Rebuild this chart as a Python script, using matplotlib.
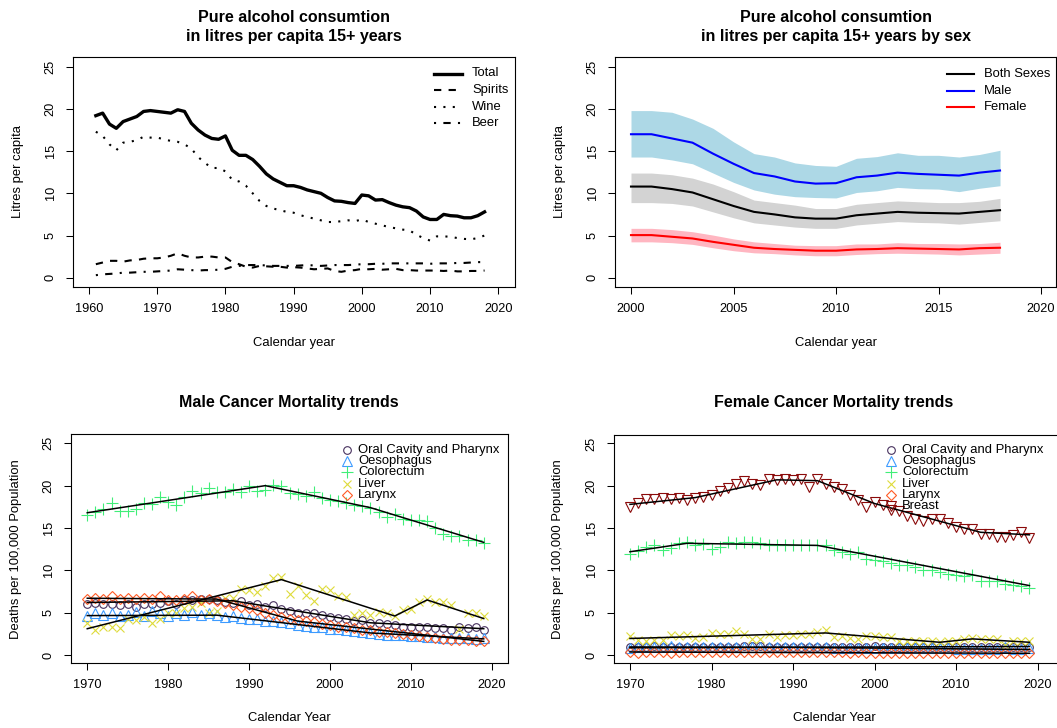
import matplotlib
matplotlib.use("Agg")
import matplotlib.pyplot as plt
from matplotlib.lines import Line2D

plt.rcParams['font.family'] = ['Liberation Sans', 'DejaVu Sans']

W, H = 1057, 728

# ---------------- data: alcohol consumption 1961-2018 ----------------
years_alc = list(range(1961, 2019))
total = [19.2, 19.5, 18.2, 17.7, 18.5, 18.8, 19.1, 19.7, 19.8,
         19.7, 19.6, 19.5, 19.9, 19.7, 18.3, 17.5, 16.9, 16.5, 16.4,
         16.8, 15.1, 14.5, 14.5, 14.0, 13.2, 12.3, 11.7, 11.3, 10.9,
         10.9, 10.7, 10.4, 10.2, 10.0, 9.5, 9.1, 9.05, 8.9, 8.8,
         9.8, 9.7, 9.2, 9.25, 8.9, 8.6, 8.4, 8.3, 7.9, 7.2,
         6.9, 6.9, 7.5, 7.35, 7.3, 7.1, 7.1, 7.35, 7.8]
wine = [17.3, 16.8, 15.8, 15.1, 16.0, 16.1, 16.3, 16.7, 16.6,
        16.6, 16.4, 16.2, 16.1, 15.8, 15.3, 14.3, 13.6, 13.0, 13.0,
        12.6, 11.6, 11.4, 10.9, 10.0, 9.1, 8.5, 8.2, 8.0, 7.8,
        7.7, 7.4, 7.2, 7.0, 6.8, 6.6, 6.6, 6.7, 6.8, 6.7,
        6.9, 6.6, 6.4, 6.2, 6.0, 5.85, 5.7, 5.6, 5.1, 4.7,
        4.4, 4.9, 4.9, 4.85, 4.7, 4.6, 4.55, 4.7, 5.0]
spirits = [1.6, 1.8, 2.0, 2.0, 1.9, 2.05, 2.1, 2.25, 2.3,
           2.3, 2.4, 2.6, 2.9, 2.6, 2.4, 2.4, 2.5, 2.5, 2.4,
           2.4, 1.85, 1.6, 1.3, 1.2, 1.4, 1.35, 1.3, 1.3, 1.2,
           1.25, 1.2, 1.1, 1.0, 1.05, 1.1, 0.8, 0.7, 0.85, 0.9,
           1.05, 1.0, 1.05, 0.95, 1.0, 1.05, 0.9, 0.9, 0.85, 0.85,
           0.85, 0.85, 0.8, 0.85, 0.75, 0.75, 0.8, 0.8, 0.85]
beer = [0.3, 0.4, 0.45, 0.5, 0.6, 0.6, 0.65, 0.7, 0.7,
        0.75, 0.8, 0.85, 1.0, 0.95, 0.9, 0.85, 0.9, 0.9, 0.95,
        1.05, 1.3, 1.4, 1.5, 1.5, 1.5, 1.45, 1.4, 1.4, 1.4,
        1.4, 1.45, 1.5, 1.45, 1.4, 1.45, 1.5, 1.5, 1.5, 1.55,
        1.6, 1.6, 1.65, 1.65, 1.7, 1.7, 1.7, 1.7, 1.7, 1.7,
        1.65, 1.7, 1.7, 1.7, 1.75, 1.75, 1.8, 1.85, 1.85]

# ---------------- data: by sex 2000-2018 ----------------
years_sex = list(range(2000, 2019))
male = [17.0, 17.0, 16.5, 16.0, 14.7, 13.5, 12.4, 12.0, 11.4, 11.15,
        11.2, 11.9, 12.1, 12.45, 12.3, 12.2, 12.1, 12.45, 12.7]
male_hi = [19.8, 19.8, 19.6, 18.8, 17.7, 16.1, 14.7, 14.3, 13.6, 13.3,
           13.2, 14.15, 14.35, 14.8, 14.5, 14.5, 14.3, 14.6, 15.1]
male_lo = [14.3, 14.3, 13.95, 13.5, 12.4, 11.3, 10.4, 9.9, 9.6, 9.5,
           9.45, 10.1, 10.3, 10.7, 10.55, 10.5, 10.2, 10.6, 10.9]
both = [10.8, 10.8, 10.5, 10.1, 9.3, 8.5, 7.8, 7.5, 7.15, 7.0,
        7.0, 7.4, 7.6, 7.8, 7.7, 7.65, 7.6, 7.8, 8.0]
both_hi = [12.4, 12.4, 12.2, 11.8, 11.1, 10.2, 9.2, 8.9, 8.6, 8.2,
           8.2, 8.7, 8.9, 9.1, 9.0, 8.9, 8.9, 9.05, 9.4]
both_lo = [8.9, 8.9, 8.8, 8.5, 7.8, 7.1, 6.5, 6.25, 6.0, 5.85,
           5.85, 6.25, 6.45, 6.65, 6.55, 6.5, 6.35, 6.55, 6.75]
female = [5.05, 5.05, 4.85, 4.65, 4.25, 3.9, 3.55, 3.4, 3.3, 3.2,
          3.2, 3.35, 3.4, 3.5, 3.45, 3.4, 3.35, 3.5, 3.55]
female_hi = [5.85, 5.85, 5.7, 5.45, 5.05, 4.6, 4.25, 4.05, 3.85, 3.8,
             3.8, 4.0, 4.0, 4.15, 4.05, 4.05, 4.0, 4.05, 4.2]
female_lo = [4.25, 4.25, 4.15, 3.95, 3.55, 3.2, 2.95, 2.85, 2.7, 2.6,
             2.6, 2.75, 2.85, 2.9, 2.85, 2.8, 2.7, 2.8, 2.9]

# ---------------- data: cancer mortality 1970-2019 ----------------
years_c = list(range(1970, 2020))
oral_m = [6.05, 6.15, 6.0, 6.05, 5.95, 6.0, 5.65, 6.0, 6.0, 6.1,
          6.35, 6.05, 6.45, 6.5, 6.6, 6.6, 6.5, 6.2, 6.1, 6.35,
          5.95, 6.05, 5.7, 5.85, 5.45, 5.25, 5.0, 5.0, 4.95, 4.7,
          4.45, 4.4, 4.25, 4.0, 4.15, 3.75, 3.75, 3.65, 3.55, 3.35,
          3.3, 3.3, 3.25, 3.15, 3.15, 2.95, 3.35, 3.15, 3.3, 3.0]
oes_m = [4.6, 4.9, 4.7, 5.0, 4.6, 4.7, 5.1, 4.6, 5.2, 4.9,
         4.6, 4.9, 4.7, 5.1, 4.7, 5.0, 4.7, 4.5, 4.6, 4.4,
         4.2, 4.2, 4.0, 4.0, 3.9, 3.8, 3.5, 3.4, 3.3, 3.3,
         3.1, 3.1, 2.9, 2.8, 2.7, 2.6, 2.5, 2.4, 2.3, 2.3,
         2.2, 2.2, 2.1, 2.1, 2.0, 2.0, 2.0, 2.0, 1.9, 2.0]
colo_m = [16.5, 16.9, 17.2, 18.0, 17.0, 17.0, 17.2, 17.9, 17.8, 18.6,
          18.1, 17.7, 18.6, 19.35, 19.1, 19.7, 19.2, 19.2, 19.55, 19.3,
          19.95, 19.35, 19.5, 20.1, 19.9, 19.15, 19.0, 18.75, 19.3, 18.5,
          18.3, 18.2, 17.9, 17.7, 17.6, 17.4, 16.9, 16.3, 16.7, 16.1,
          16.0, 16.0, 15.8, 15.05, 14.3, 14.0, 14.1, 13.6, 13.6, 13.2]
liver_m = [3.75, 2.95, 3.35, 3.35, 3.15, 4.25, 4.1, 4.5, 3.8, 4.3,
           4.9, 4.9, 5.5, 5.7, 6.1, 5.0, 5.2, 6.7, 6.7, 7.75,
           7.7, 7.45, 8.1, 9.05, 9.25, 7.2, 8.1, 7.1, 6.4, 7.75,
           7.7, 7.0, 6.9, 4.7, 4.9, 4.7, 5.05, 4.9, 4.6, 5.3,
           5.45, 6.3, 6.6, 6.2, 6.2, 5.9, 3.1, 4.9, 5.0, 4.65]
larynx_m = [6.6, 6.7, 6.6, 7.0, 6.6, 6.7, 6.6, 6.7, 6.6, 7.0,
            6.5, 6.5, 6.6, 7.0, 6.5, 6.6, 6.4, 6.1, 5.9, 5.7,
            5.5, 5.3, 4.9, 4.7, 4.5, 4.3, 4.1, 4.0, 3.9, 3.7,
            3.5, 3.35, 3.3, 3.15, 3.0, 2.9, 2.75, 2.7, 2.55, 2.5,
            2.3, 2.2, 2.1, 2.0, 1.9, 1.8, 1.8, 1.75, 1.7, 1.6]

oral_f = [0.9, 1.0, 1.0, 1.1, 1.0, 1.0, 0.9, 1.0, 0.9, 1.0,
          1.0, 1.0, 1.0, 1.0, 1.1, 1.1, 1.1, 1.0, 1.0, 1.0,
          1.0, 1.0, 1.0, 1.0, 1.0, 0.9, 1.0, 0.9, 1.0, 1.0,
          1.1, 1.0, 1.0, 1.0, 1.0, 1.0, 1.0, 1.0, 1.0, 1.0,
          1.0, 1.0, 1.0, 1.0, 1.0, 1.0, 1.0, 1.0, 1.0, 1.0]
oes_f = [0.8, 1.0, 0.9, 1.0, 0.9, 1.1, 0.9, 0.9, 1.0, 0.9,
         0.9, 0.9, 0.9, 0.9, 0.9, 0.9, 0.9, 0.9, 0.9, 0.9,
         0.9, 0.9, 0.9, 0.9, 0.9, 0.8, 0.8, 0.8, 0.8, 0.8,
         0.8, 0.8, 0.8, 0.8, 0.8, 0.8, 0.8, 0.8, 0.8, 0.8,
         0.7, 0.7, 0.7, 0.7, 0.7, 0.7, 1.0, 0.7, 0.7, 0.8]
colo_f = [11.9, 12.3, 12.75, 13.0, 12.35, 12.7, 13.2, 13.4, 12.95, 13.15,
          12.55, 12.75, 13.4, 13.2, 13.35, 13.4, 13.25, 13.0, 13.0, 12.95,
          12.95, 12.95, 12.95, 12.95, 12.95, 12.35, 12.15, 11.95, 12.15, 11.35,
          11.2, 11.05, 10.85, 10.65, 10.65, 10.4, 10.05, 10.0, 9.8, 9.6,
          9.5, 9.3, 9.5, 8.8, 8.7, 8.75, 8.35, 8.25, 8.2, 7.95]
liver_f = [2.2, 1.8, 1.7, 1.75, 1.8, 2.4, 2.3, 2.35, 2.0, 2.1,
           2.6, 2.45, 2.45, 2.85, 2.5, 1.9, 1.85, 2.5, 2.1, 2.4,
           2.4, 2.5, 2.5, 2.7, 2.9, 2.1, 2.2, 2.0, 1.9, 2.3,
           2.2, 2.1, 2.1, 1.6, 1.7, 1.6, 1.6, 1.6, 1.5, 1.6,
           1.7, 1.9, 2.0, 1.9, 1.9, 1.9, 1.2, 1.6, 1.6, 1.6]
larynx_f = [0.3, 0.2, 0.3, 0.3, 0.3, 0.2, 0.3, 0.3, 0.3, 0.3,
            0.3, 0.3, 0.3, 0.3, 0.3, 0.3, 0.3, 0.3, 0.3, 0.3,
            0.3, 0.3, 0.3, 0.3, 0.3, 0.3, 0.3, 0.2, 0.3, 0.2,
            0.2, 0.2, 0.2, 0.2, 0.2, 0.2, 0.2, 0.2, 0.2, 0.2,
            0.2, 0.2, 0.2, 0.2, 0.2, 0.2, 0.2, 0.2, 0.2, 0.2]
breast_f = [17.5, 18.0, 18.4, 18.4, 18.6, 18.4, 18.5, 18.3, 18.55, 18.7,
            18.95, 19.35, 19.75, 20.15, 20.55, 20.25, 20.05, 20.85, 20.65, 20.85,
            20.65, 20.8, 19.9, 20.8, 20.15, 19.8, 19.6, 18.9, 18.3, 17.5,
            18.1, 17.7, 17.1, 17.0, 16.4, 16.1, 15.85, 16.1, 16.05, 15.65,
            15.1, 14.85, 14.85, 14.25, 14.35, 13.95, 14.0, 14.2, 14.5, 13.85]

# fitted trend lines (joinpoint years, fitted values)
fit_m = {
    'oral':   ([1970, 1988, 2005, 2019], [6.2, 6.4, 3.8, 3.1]),
    'oes':    ([1970, 1986, 2005, 2019], [4.65, 4.7, 2.6, 1.9]),
    'colo':   ([1970, 1992, 2005, 2019], [16.8, 20.0, 17.4, 13.3]),
    'liver':  ([1970, 1994, 2008, 2012, 2019], [3.1, 8.9, 4.6, 6.5, 4.3]),
    'larynx': ([1970, 1986, 1996, 2019], [6.7, 6.6, 4.0, 1.6]),
}
fit_f = {
    'oral':   ([1970, 2019], [0.85, 1.0]),
    'oes':    ([1970, 1990, 2019], [0.95, 0.9, 0.65]),
    'colo':   ([1970, 1977, 1993, 2019], [12.2, 13.2, 12.95, 8.2]),
    'liver':  ([1970, 1994, 2008, 2012, 2019], [1.95, 2.6, 1.5, 1.9, 1.5]),
    'larynx': ([1970, 2019], [0.35, 0.2]),
    'breast': ([1970, 1978, 1988, 1993, 2000, 2013, 2019],
               [17.8, 18.6, 20.7, 20.6, 17.9, 14.5, 14.2]),
}

labels_cancer = ['Oral Cavity and Pharynx', 'Oesophagus', 'Colorectum',
                 'Liver', 'Larynx', 'Breast']
keys = ['oral', 'oes', 'colo', 'liver', 'larynx', 'breast']
colors = {'oral': '#47315E', 'oes': '#3D9BFF', 'colo': '#40EE78',
          'liver': '#DEDB3A', 'larynx': '#FF5A24', 'breast': '#8B0A0A'}
markers = {'oral': ('o', 5.5), 'oes': ('^', 6.5), 'colo': ('+', 8),
           'liver': ('x', 6), 'larynx': ('D', 5.5), 'breast': ('v', 7)}

# ---------------- figure ----------------
fig = plt.figure(figsize=(W / 100, H / 100), dpi=100)

def add_ax(l, t, r, b):
    return fig.add_axes([l / W, 1 - b / H, (r - l) / W, (b - t) / H])

def ftext(x, y, s, **kw):
    fig.text(x / W, 1 - y / H, s, **kw)

def fline(x0, x1, y, **kw):
    fig.add_artist(Line2D([x0 / W, x1 / W], [1 - y / H, 1 - y / H],
                          transform=fig.transFigure, **kw))

def fmark(x, y, key):
    m, s = markers[key]
    fc = 'none' if m in ('o', '^', 'D', 'v') else colors[key]
    fig.add_artist(Line2D([x / W], [1 - y / H], transform=fig.transFigure,
                          marker=m, markersize=s, markerfacecolor=fc,
                          markeredgecolor=colors[key], markeredgewidth=0.8,
                          linestyle='none'))

TICK_FS = 9.2
LAB_FS = 9.4
TITLE_FS = 11.5

def style(ax, xticks, xlim, ylim):
    ax.set_xlim(*xlim)
    ax.set_ylim(*ylim)
    ax.set_xticks(xticks)
    ax.set_yticks([0, 5, 10, 15, 20, 25])
    for sp in ax.spines.values():
        sp.set_linewidth(0.8)
    ax.tick_params(axis='both', direction='out', length=5.2, width=0.75,
                   labelsize=TICK_FS)
    ax.tick_params(axis='x', pad=6.5)
    ax.tick_params(axis='y', pad=6.5)
    for lab in ax.get_yticklabels():
        lab.set_rotation(90)
        lab.set_va('center')

# ---- top-left ----
ax1 = add_ax(73, 57, 515, 287)
ax1.plot(years_alc, total, color='black', lw=2.4, solid_joinstyle='round')
ax1.plot(years_alc, spirits, color='black', lw=1.5, dashes=(3.5, 3.5))
ax1.plot(years_alc, wine, color='black', lw=1.5, dashes=(1, 3.5))
ax1.plot(years_alc, beer, color='black', lw=1.5, dashes=(1, 3.5, 3.5, 3.5))
style(ax1, [1960, 1970, 1980, 1990, 2000, 2010, 2020], (1957.65, 2022.46), (-1.1, 26.15))
ftext(294, 27, "Pure alcohol consumtion\nin litres per capita 15+ years",
      ha='center', va='center', fontsize=TITLE_FS, fontweight='bold', linespacing=1.25)
ftext(294, 343, "Calendar year", ha='center', va='center', fontsize=LAB_FS)
ftext(18, 172, "Litres per capita", ha='center', va='center', rotation=90, fontsize=LAB_FS)
leg1 = [("Total", dict(lw=2.4)), ("Spirits", dict(lw=1.5, dashes=(3.5, 3.5))),
        ("Wine", dict(lw=1.5, dashes=(1, 3.5))), ("Beer", dict(lw=1.5, dashes=(1, 3.5, 3.5, 3.5)))]
for i, (lab, kw) in enumerate(leg1):
    y = 73.5 + 16.6 * i
    fline(434, 462, y, color='black', **kw)
    ftext(472, y, lab, ha='left', va='center', fontsize=LAB_FS)

# ---- top-right ----
ax2 = add_ax(615, 57, 1056, 287)
ax2.fill_between(years_sex, male_lo, male_hi, color='#ADD8E6', lw=0)
ax2.fill_between(years_sex, both_lo, both_hi, color='#D3D3D3', lw=0)
ax2.fill_between(years_sex, female_lo, female_hi, color='#FFB6C1', lw=0)
ax2.plot(years_sex, both, color='black', lw=1.5)
ax2.plot(years_sex, male, color='blue', lw=1.5)
ax2.plot(years_sex, female, color='red', lw=1.5)
style(ax2, [2000, 2005, 2010, 2015, 2020], (1999.22, 2020.73), (-1.1, 26.15))
ftext(836, 27, "Pure alcohol consumtion\nin litres per capita 15+ years by sex",
      ha='center', va='center', fontsize=TITLE_FS, fontweight='bold', linespacing=1.25)
ftext(836, 343, "Calendar year", ha='center', va='center', fontsize=LAB_FS)
ftext(560, 172, "Litres per capita", ha='center', va='center', rotation=90, fontsize=LAB_FS)
for i, (lab, c) in enumerate([("Both Sexes", 'black'), ("Male", 'blue'), ("Female", 'red')]):
    y = 74 + 16.5 * i
    fline(947, 974, y, color=c, lw=1.5)
    ftext(984, y, lab, ha='left', va='center', fontsize=LAB_FS)

# ---- cancer panels ----
def cancer_panel(ax, series, fits, legend_keys, lx, title, tx, ylx):
    for k in legend_keys:
        m, s = markers[k]
        fc = 'none' if m in ('o', '^', 'D', 'v') else colors[k]
        ax.plot(years_c, series[k], linestyle='none', marker=m, markersize=s,
                markerfacecolor=fc, markeredgecolor=colors[k], markeredgewidth=0.8)
    for k in legend_keys:
        fx, fy = fits[k]
        ax.plot(fx, fy, color='black', lw=1.1)
    ftext(tx, 402, title, ha='center', va='center', fontsize=TITLE_FS, fontweight='bold')
    ftext(tx, 718, "Calendar Year", ha='center', va='center', fontsize=LAB_FS)
    ftext(ylx, 549, "Deaths per 100,000 Population", ha='center', va='center',
          rotation=90, fontsize=LAB_FS)
    for i, k in enumerate(legend_keys):
        y = 449.5 + 11.35 * i
        fmark(lx, y, k)
        ftext(lx + 11, y, labels_cancer[keys.index(k)], ha='left', va='center',
              fontsize=LAB_FS)

ax3 = add_ax(71, 434, 508, 663)
cancer_panel(ax3, {'oral': oral_m, 'oes': oes_m, 'colo': colo_m, 'liver': liver_m,
                   'larynx': larynx_m}, fit_m,
             ['oral', 'oes', 'colo', 'liver', 'larynx'], 347,
             "Male Cancer Mortality trends", 289, 16)
style(ax3, [1970, 1980, 1990, 2000, 2010, 2020], (1967.99, 2022.0), (-0.95, 26.1))

ax4 = add_ax(614, 435, 1058, 663)
cancer_panel(ax4, {'oral': oral_f, 'oes': oes_f, 'colo': colo_f, 'liver': liver_f,
                   'larynx': larynx_f, 'breast': breast_f}, fit_f,
             ['oral', 'oes', 'colo', 'liver', 'larynx', 'breast'], 891,
             "Female Cancer Mortality trends", 834, 558)
style(ax4, [1970, 1980, 1990, 2000, 2010, 2020], (1968.04, 2022.5), (-0.95, 26.0))

fig.savefig("out.png", dpi=100)
